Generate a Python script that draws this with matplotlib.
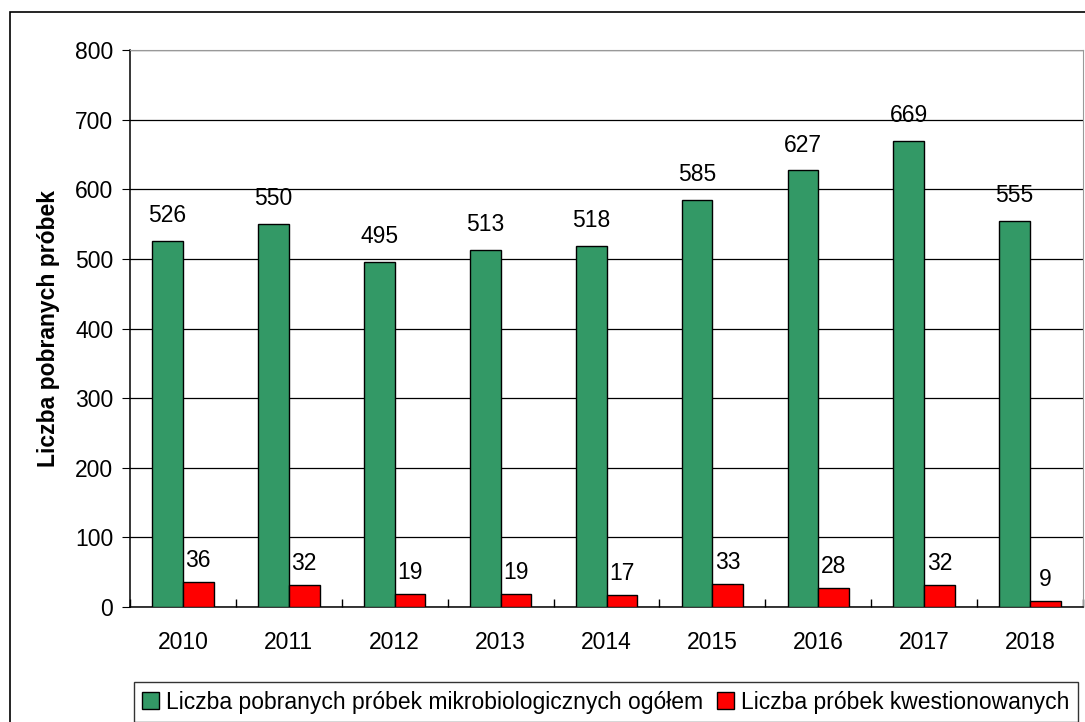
import numpy as np
import matplotlib.pyplot as plt
from matplotlib.patches import Rectangle

plt.rcParams['font.family'] = ['Liberation Sans', 'DejaVu Sans']

lata = ['2010', '2011', '2012', '2013', '2014', '2015', '2016', '2017', '2018']
ogolem = [526, 550, 495, 513, 518, 585, 627, 669, 555]
kwestionowane = [36, 32, 19, 19, 17, 33, 28, 32, 9]

nazwa_ogolem = 'Liczba pobranych próbek mikrobiologicznych ogółem'
nazwa_kwest = 'Liczba próbek kwestionowanych'

W, H = 1085, 722
fs = 16.5
fig = plt.figure(figsize=(W / 100, H / 100), dpi=100)
ax = fig.add_axes([130 / W, 1 - 607 / H, (1083 - 130) / W, (607 - 50) / H])

# ramka wokół całego wykresu
fig.patches.append(Rectangle((10 / W, -0.01), 1.2, 1 - 12 / H + 0.01, transform=fig.transFigure,
                             fill=False, edgecolor='black', linewidth=1.2))

x = np.arange(len(lata))
szer = 0.29
b1 = ax.bar(x - szer / 2, ogolem, szer, color='#339966', edgecolor='black', linewidth=1,
            label=nazwa_ogolem, zorder=3)
b2 = ax.bar(x + szer / 2, kwestionowane, szer, color='#ff0000', edgecolor='black', linewidth=1,
            label=nazwa_kwest, zorder=3)

for r, v in zip(b1, ogolem):
    ax.annotate(str(v), (r.get_x() + r.get_width() / 2, v), xytext=(0, 10), textcoords='offset points',
                ha='center', va='bottom', fontsize=fs)
for r, v in zip(b2, kwestionowane):
    ax.annotate(str(v), (r.get_x() + r.get_width() / 2, v), xytext=(0, 7), textcoords='offset points',
                ha='center', va='bottom', fontsize=fs)

ax.set_xlim(-0.5, len(lata) - 0.5)
ax.set_ylim(0, 800)
ax.set_yticks(range(0, 801, 100))
ax.set_xticks(x)
ax.set_xticklabels(lata)
ax.set_xticks(np.arange(-0.5, len(lata)), minor=True)
ax.tick_params(axis='x', which='major', length=0, pad=17, labelsize=fs)
ax.tick_params(axis='x', which='minor', length=6, direction='in', width=1)
ax.tick_params(axis='y', length=6, direction='out', labelsize=fs, pad=6)
ax.grid(axis='y', color='black', linewidth=0.9, zorder=0)
ax.set_axisbelow(True)
for s in ['top', 'right']:
    ax.spines[s].set_color('#999999')
for s in ['left', 'bottom']:
    ax.spines[s].set_color('black')
    ax.spines[s].set_linewidth(1.1)
ax.set_ylabel('Liczba pobranych próbek', fontsize=fs, fontweight='bold', labelpad=11)

leg = fig.legend(loc='center', bbox_to_anchor=((130 + 1082) / 2 / W, 1 - 702 / H),
                 ncol=2, fontsize=fs, frameon=True, fancybox=False,
                 handlelength=0.75, handleheight=0.75, handletextpad=0.3, columnspacing=0.6,
                 borderpad=0.35, borderaxespad=0)
leg.get_frame().set_edgecolor('black')
leg.get_frame().set_linewidth(1)

fig.savefig('out.png', dpi=100)
